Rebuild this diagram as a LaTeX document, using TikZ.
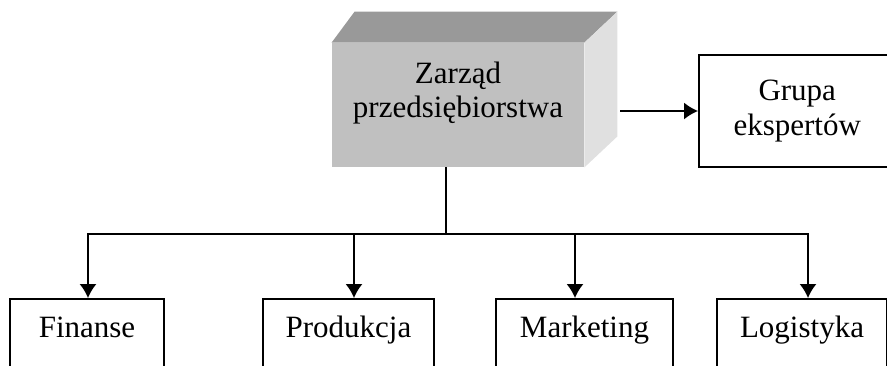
\documentclass[tikz,border=0pt]{standalone}
\usepackage{fontspec}
\setmainfont{Liberation Serif}
\usepackage{tikz}
\usetikzlibrary{arrows.meta,positioning,calc}
\definecolor{face-front}{HTML}{C0C0C0}
\definecolor{face-top}{HTML}{999999}
\definecolor{face-side}{HTML}{E0E0E0}

\begin{document}
\begin{tikzpicture}[
    x=0.5pt, y=-0.5pt,
    box/.style={rectangle, draw=black, line width=0.75pt, align=center,
                font=\fontsize{15.5}{17.5}\selectfont},
    unit/.style={box, anchor=north, text height=11pt, text depth=30pt, inner ysep=8.5pt},
    arrow/.style={-{Latex[length=7pt,width=8.5pt]}, line width=0.75pt}
]
  \useasboundingbox (0,0) rectangle (887,365);

  % Board (block with depth)
  \node[rectangle, fill=face-front, minimum width=126pt, minimum height=62pt] (zarzad) at (458,105) {};
  \fill[face-top] (zarzad.north west) -- ++(23,-31) -- ([shift={(33,-31)}]zarzad.north east) -- (zarzad.north east) -- cycle;
  \fill[face-side] (zarzad.north east) -- ++(33,-31) -- ([shift={(33,-31)}]zarzad.south east) -- (zarzad.south east) -- cycle;
  \node[align=center, font=\fontsize{15.5}{17}\selectfont] (zarzadtxt) at (458,93) {Zarząd\\przedsiębiorstwa};

  % Experts
  \node[box, anchor=west, minimum width=98.5pt, minimum height=56pt] (grupa) at (698,111) {Grupa\\ekspertów};

  % Departments
  \node[unit, minimum width=77pt] (finanse) at (87,298) {Finanse};
  \node[unit, minimum width=85.5pt] (produkcja) at (348.5,298) {Produkcja};
  \node[unit, minimum width=88.5pt] (marketing) at (584.5,298) {Marketing};
  \node[unit, minimum width=85pt] (logistyka) at (802,298) {Logistyka};

  % Arrows
  \coordinate (hub) at (446,234);
  \draw[line width=0.75pt] (hub |- zarzad.south) -- (hub);
  \draw[arrow] ([xshift=18pt]zarzad.east |- grupa.west) -- (grupa.west);
  \draw[arrow] (hub) -| ([xshift=0.5pt]finanse.north);
  \draw[arrow] (hub) -| ([xshift=2.75pt]produkcja.north);
  \draw[arrow] (hub) -| ([xshift=-4.75pt]marketing.north);
  \draw[arrow] (hub) -| ([xshift=3pt]logistyka.north);

\end{tikzpicture}
\end{document}
